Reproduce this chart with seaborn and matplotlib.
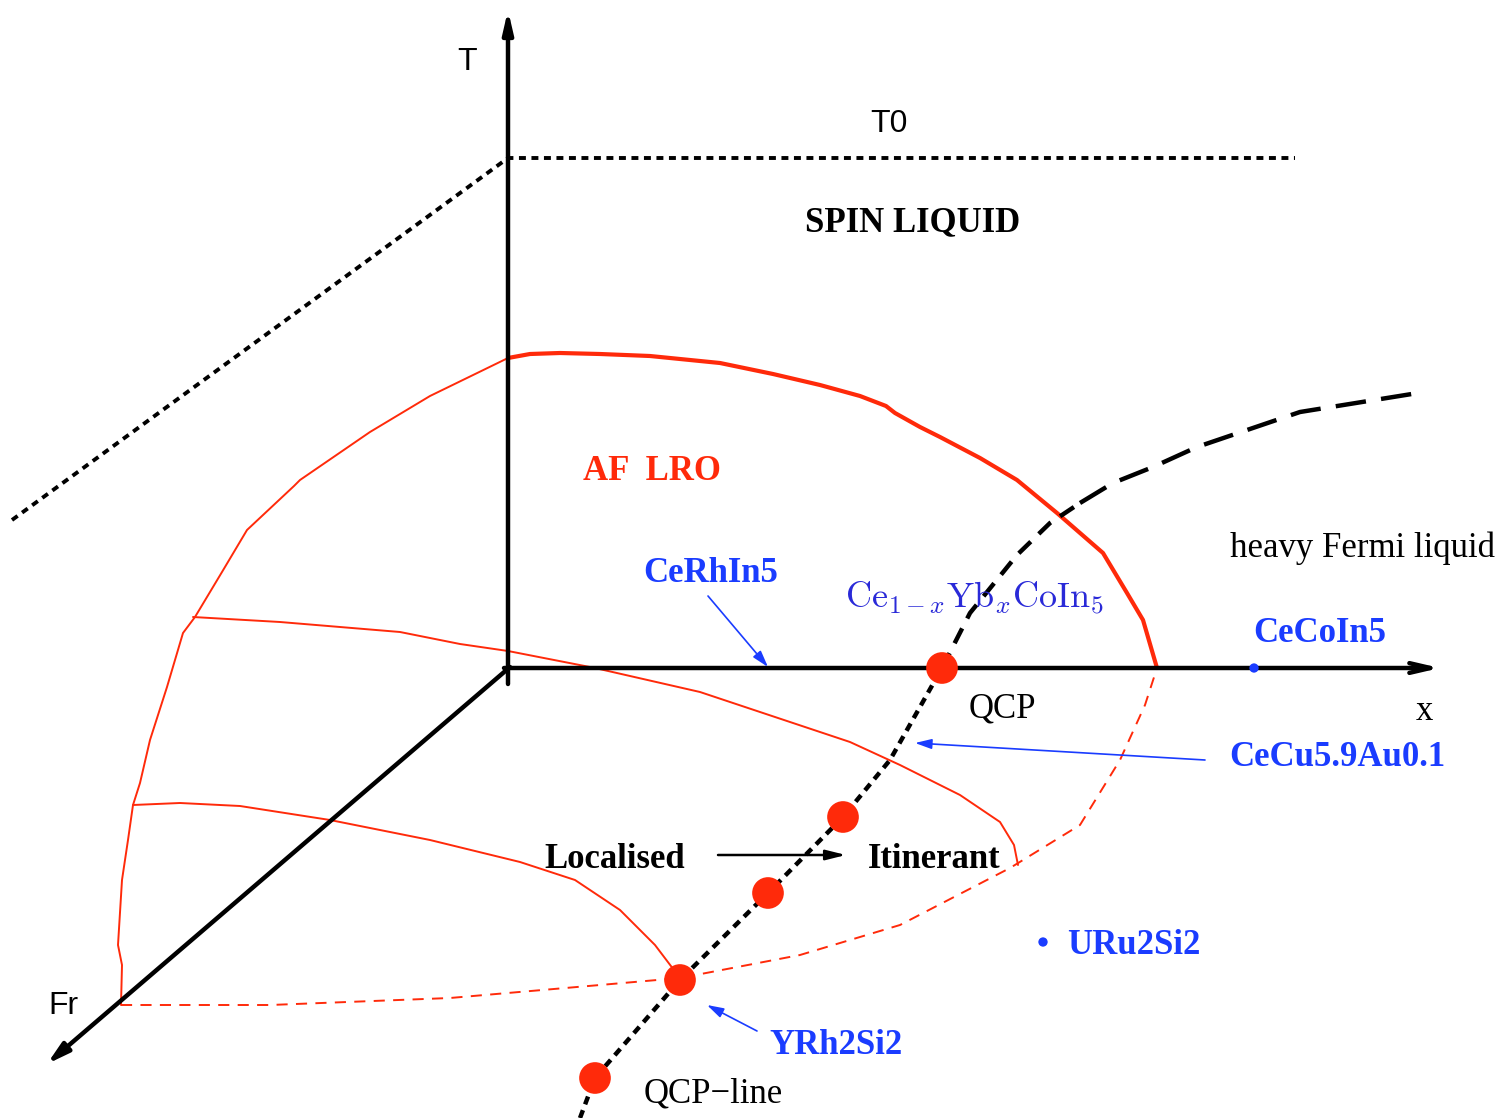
import numpy as np
import matplotlib
matplotlib.use("Agg")
import matplotlib.pyplot as plt
import seaborn as sns

# ---- schematic data (picture coordinates, y grows downward) ----
# red thick boundary in the T-x plane
af_top_x = [508, 530, 560, 600, 650, 700, 720, 773, 820, 860, 886, 895, 920, 940, 980, 1017, 1057, 1103, 1127, 1143, 1157]
af_top_y = [358, 354, 353, 354, 356, 361, 363, 374, 385, 396, 406, 413, 427, 437, 458, 480, 513, 553, 593, 620, 668]
# red thin boundary in the T-Fr plane
af_left_x = [508, 430, 370, 300, 294, 247, 222, 195, 183, 167, 150, 140, 133, 128, 122, 118, 122, 121]
af_left_y = [358, 396, 432, 480, 486, 530, 572, 617, 633, 687, 740, 783, 805, 840, 880, 945, 965, 1005]
# red thin cuts at intermediate Fr
cut1_x = [193, 280, 400, 460, 508, 595, 700, 760, 850, 900, 960, 1000, 1014, 1018]
cut1_y = [617, 622, 632, 644, 651, 668, 692, 712, 742, 765, 795, 822, 845, 865]
cut2_x = [133, 180, 240, 330, 430, 520, 575, 620, 655, 680]
cut2_y = [805, 803, 806, 820, 840, 862, 880, 910, 945, 978]
# red dashed boundary in the Fr-x plane
base_x = [121, 270, 450, 600, 680, 800, 900, 1010, 1080, 1120, 1145, 1157]
base_y = [1005, 1005, 998, 985, 978, 955, 925, 868, 825, 760, 705, 668]
# QCP line (three dash lengths)
qcp_lo_x = [580, 595, 680, 768, 843, 890, 942]
qcp_lo_y = [1118, 1078, 980, 893, 817, 760, 668]
qcp_mid_x = [942, 970, 1017, 1050, 1080]
qcp_mid_y = [668, 613, 555, 523, 503]
qcp_hi_x = [1080, 1113, 1153, 1197, 1300, 1418]
qcp_hi_y = [503, 483, 467, 447, 412, 393]
# QCP points
qcp_pts_x = [942, 843, 768, 680, 595]
qcp_pts_y = [668, 817, 893, 980, 1078]
# T0 crossover lines
t0_x = [12, 508, 1295]
t0_y = [520, 158, 158]

RED = "#ff2a0a"
BLUE = "#1a3cff"
SERIF = "Liberation Serif"
SANS = "Liberation Sans"

plt.rcParams["lines.scale_dashes"] = False
plt.rcParams["mathtext.fontset"] = "cm"

fig = plt.figure(figsize=(14.98, 11.18), dpi=100)
ax = fig.add_axes([0, 0, 1, 1])
ax.set_xlim(0, 1498)
ax.set_ylim(1118, 0)
ax.axis("off")


def curve(x, y, color, lw, dashes=None):
    sns.lineplot(x=x, y=y, sort=False, estimator=None, color=color, lw=lw, ax=ax)
    line = ax.lines[-1]
    line.set_solid_capstyle("round")
    line.set_solid_joinstyle("round")
    if dashes is not None:
        line.set_dashes(dashes)
        line.set_dash_capstyle("butt")


def arrow(tip, tail, style, lw, color):
    ax.annotate("", xy=tip, xytext=tail,
                arrowprops=dict(arrowstyle=style, lw=lw, color=color, shrinkA=0, shrinkB=0))


# dotted T0 lines
curve(t0_x, t0_y, "black", 2.8, (5, 4))

# axes of the phase diagram
arrow((508, 10), (508, 684), "-|>,head_length=1.3,head_width=0.3", 3.2, "black")
arrow((1440, 668), (504, 668), "->,head_length=1.5,head_width=0.35", 3.2, "black")
arrow((47, 1064), (510, 667), "-|>,head_length=1.3,head_width=0.35", 3.2, "black")

# red boundaries
curve(af_top_x, af_top_y, RED, 3.0)
curve(af_left_x, af_left_y, RED, 1.4)
curve(cut1_x, cut1_y, RED, 1.4)
curve(cut2_x, cut2_y, RED, 1.4)
curve(base_x, base_y, RED, 1.4, (8, 6))

# QCP line
curve(qcp_lo_x, qcp_lo_y, "black", 3.2, (6, 4.5))
curve(qcp_mid_x, qcp_mid_y, "black", 3.2, (12, 8))
curve(qcp_hi_x, qcp_hi_y, "black", 3.2, (22, 11))

sns.scatterplot(x=qcp_pts_x, y=qcp_pts_y, s=520, color=RED, edgecolor="none", ax=ax, zorder=5)
sns.scatterplot(x=[1254, 1043], y=[668, 942], s=45, color=BLUE, edgecolor="none", ax=ax, zorder=5)

# labels
ax.text(467, 62, "T", family=SANS, fontsize=23, ha="center", va="center")
ax.text(889, 124, "T0", family=SANS, fontsize=23, ha="center", va="center")
ax.text(63, 1006, "Fr", family=SANS, fontsize=23, ha="center", va="center")
ax.text(1424, 712, "x", family=SERIF, fontsize=25, ha="center", va="center")
ax.text(913, 223, "SPIN LIQUID", family=SERIF, fontsize=25, fontweight="bold", ha="center", va="center")
ax.text(652, 472, "AF  LRO", family=SERIF, fontsize=25, fontweight="bold", color=RED, ha="center", va="center")
ax.text(1362, 548, "heavy Fermi liquid", family=SERIF, fontsize=25, ha="center", va="center")
ax.text(1002, 709, "QCP", family=SERIF, fontsize=25, ha="center", va="center")
ax.text(713, 1094, "QCP\u2212line", family=SERIF, fontsize=25, ha="center", va="center")
ax.text(615, 859, "Localised", family=SERIF, fontsize=25, fontweight="bold", ha="center", va="center")
ax.text(934, 859, "Itinerant", family=SERIF, fontsize=25, fontweight="bold", ha="center", va="center")
arrow((846, 855), (718, 855), "-|>,head_length=1.2,head_width=0.3", 1.8, "black")

ax.text(975, 598, r"$\mathrm{Ce}_{1-x}\mathrm{Yb}_x\mathrm{CoIn}_5$", fontsize=26, color="#2a2ad8",
        ha="center", va="center", zorder=6)

for label, px, py in [("CeRhIn5", 711, 573), ("CeCoIn5", 1320, 634), ("CeCu5.9Au0.1", 1337, 758),
                      ("URu2Si2", 1134, 946), ("YRh2Si2", 836, 1046)]:
    ax.text(px, py, label, family=SERIF, fontsize=25, fontweight="bold", color=BLUE, ha="center", va="center")

arrow((768, 667), (708, 596), "-|>,head_length=1.0,head_width=0.3", 1.2, BLUE)
arrow((915, 743), (1205, 760), "-|>,head_length=1.0,head_width=0.3", 1.2, BLUE)
arrow((707, 1005), (757, 1031), "-|>,head_length=1.0,head_width=0.3", 1.2, BLUE)

fig.savefig("out.png", dpi=100)
